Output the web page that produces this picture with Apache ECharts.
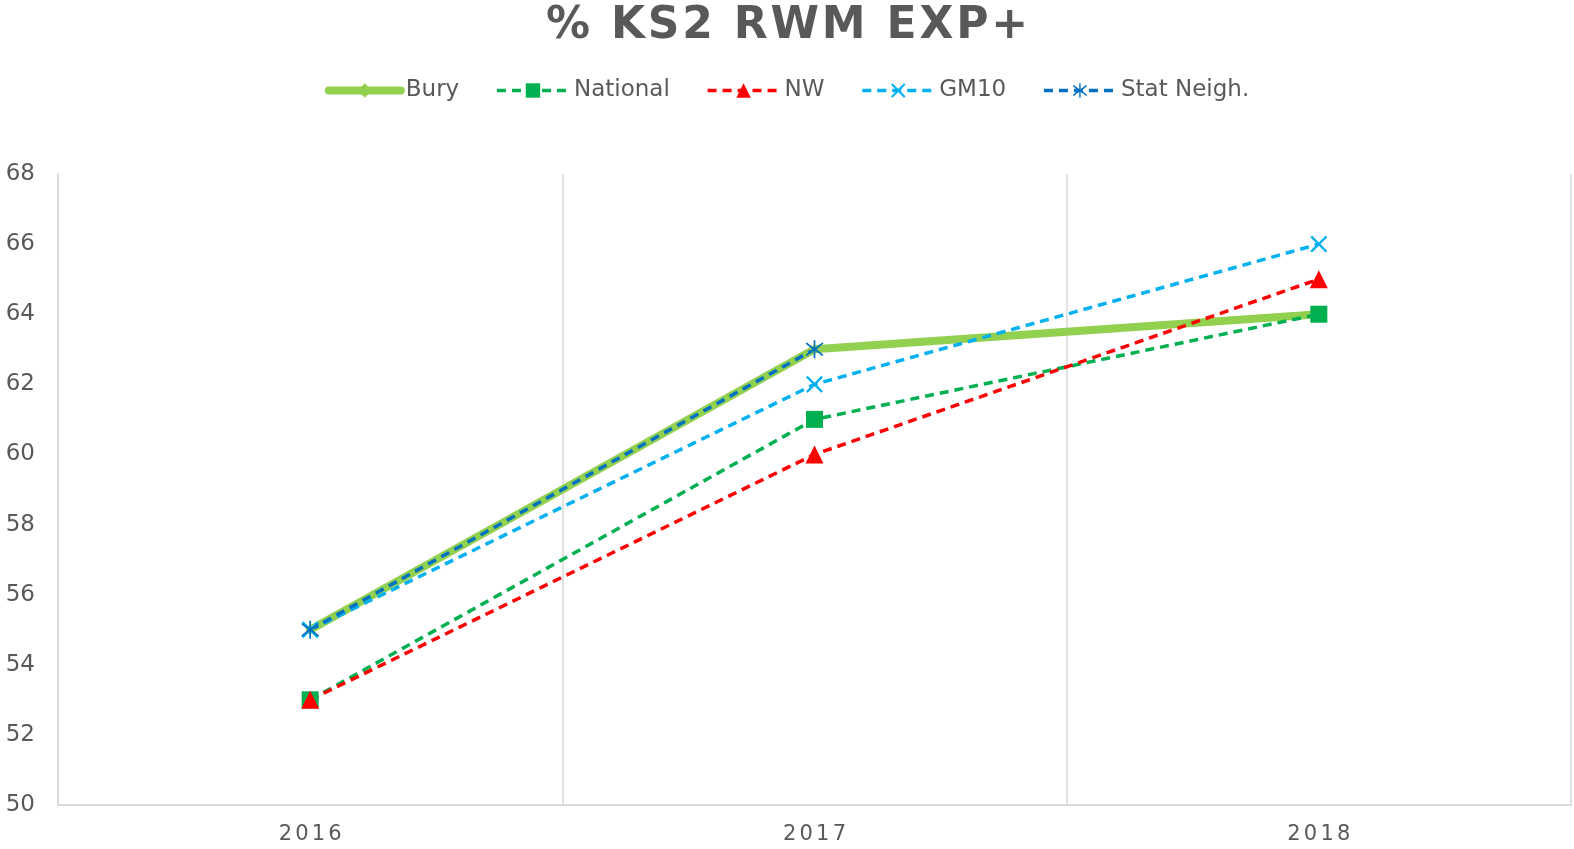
<!DOCTYPE html>
<html><head><meta charset="utf-8">
<script src="https://cdn.jsdelivr.net/npm/echarts@6/dist/echarts.min.js"></script>
<style>html,body{margin:0;padding:0;background:#fff}#c{width:1574px;height:849px}</style>
</head><body><div id="c"></div>
<script>
const categories = ['2016', '2017', '2018'];
const bury = [55, 63, 64];
const national = [53, 61, 64];
const nw = [53, 60, 65];
const gm10 = [55, 62, 66];
const statNeigh = [55, 63, null];
const yTicks = [50, 68, 2];
const titleText = '% KS2 RWM EXP+';

const FONT = 'DejaVu Sans, Verdana, sans-serif';
const X_PATH = 'path://M1,0 L5,4 L9,0 L10,1 L6,5 L10,9 L9,10 L5,6 L1,10 L0,9 L4,5 L0,1 Z';
const STAR_PATH = 'path://M4.6,0 H5.4 V4.2 L8.6,1.2 L9.2,1.8 L6,5 L9.2,8.2 L8.6,8.8 L5.4,5.8 V10 H4.6 V5.8 L1.4,8.8 L0.8,8.2 L4,5 L0.8,1.8 L1.4,1.2 L4.6,4.2 Z';

function spaced(str, key) {
  return str.split('').map(ch => '{' + key + '|' + ch + '}').join('');
}

const chart = echarts.init(document.getElementById('c'), null, {renderer: 'canvas'});
function dashed(name, data, color, symbol, size) {
  return {
    name, type: 'line', data, symbol, symbolSize: size,
    lineStyle: {color, width: 3.5, type: [9, 6]},
    itemStyle: {color},
    connectNulls: false, animation: false
  };
}
function legendItem(name, color, width, type) {
  return {name, lineStyle: {color, width, type}, itemStyle: {color}};
}
chart.setOption({
  animation: false,
  title: {
    text: spaced(titleText, 't'), left: 'center', top: 0,
    textStyle: {
      fontFamily: FONT, fontSize: 44, fontWeight: 'bold', color: '#595959',
      rich: {t: {fontFamily: FONT, fontSize: 44, fontWeight: 'bold', color: '#595959', padding: [0, 1.4]}}
    }
  },
  legend: {
    top: 74, left: 'center', itemGap: 36, itemWidth: 72, itemHeight: 18,
    textStyle: {fontFamily: FONT, fontSize: 23, color: '#595959'},
    data: [
      legendItem('Bury', '#92D050', 8, 'solid'),
      legendItem('National', '#00B050', 3.5, [9, 6]),
      legendItem('NW', '#FF0000', 3.5, [9, 6]),
      legendItem('GM10', '#00B0F0', 3.5, [9, 6]),
      legendItem('Stat Neigh.', '#0070C0', 3.5, [9, 6])
    ]
  },
  grid: {left: 58, right: 3, top: 174, bottom: 44, containLabel: false},
  xAxis: {
    type: 'category', data: categories, boundaryGap: true,
    axisLine: {lineStyle: {color: '#d9d9d9', width: 2}},
    axisTick: {show: false},
    splitLine: {show: true, lineStyle: {color: '#d9d9d9', width: 1.5}},
    axisLabel: {
      fontFamily: FONT, fontSize: 21, color: '#595959', margin: 19,
      formatter: v => spaced(v, 'd'),
      rich: {d: {fontFamily: FONT, fontSize: 21, color: '#595959', padding: [0, 1.6]}}
    }
  },
  yAxis: {
    type: 'value', min: yTicks[0], max: yTicks[1], interval: yTicks[2],
    axisLine: {show: true, lineStyle: {color: '#d9d9d9', width: 2}},
    axisTick: {show: false},
    splitLine: {show: false},
    axisLabel: {fontFamily: FONT, fontSize: 23, color: '#595959', margin: 23}
  },
  series: [
    {
      name: 'Bury', type: 'line', data: bury, symbol: 'diamond', symbolSize: 9,
      lineStyle: {color: '#92D050', width: 8, cap: 'round'},
      itemStyle: {color: '#92D050'}
    },
    dashed('National', national, '#00B050', 'rect', 17),
    dashed('NW', nw, '#FF0000', 'triangle', 18),
    dashed('GM10', gm10, '#00B0F0', X_PATH, 17),
    dashed('Stat Neigh.', statNeigh, '#0070C0', STAR_PATH, 18)
  ]
});
</script></body></html>
